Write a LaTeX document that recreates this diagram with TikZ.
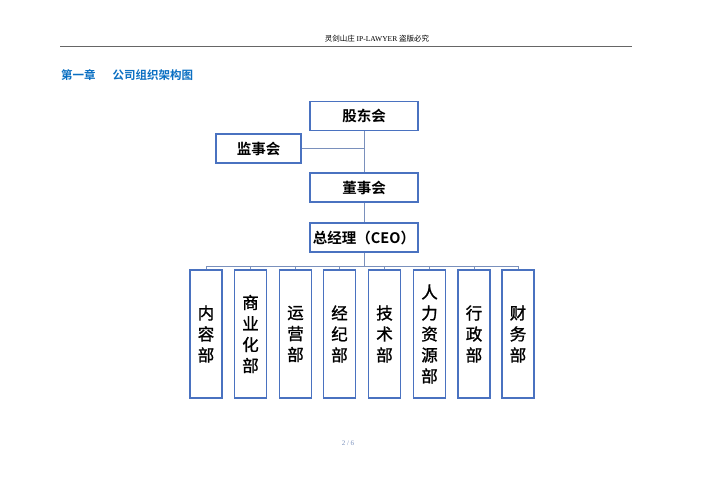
\documentclass[tikz,border=0pt]{standalone}
\usepackage{fontspec}
\setmainfont{Liberation Serif}
\newfontfamily\cjk{Noto Sans CJK SC}[BoldFont={Noto Sans CJK SC Bold}]
\newfontfamily\cjkmid{Noto Sans CJK SC}[FakeBold=1.2]
\newfontfamily\cjkhead{Noto Sans CJK SC}
\definecolor{boxblue}{HTML}{4A72C0}
\definecolor{linkblue}{HTML}{7A90BC}
\definecolor{titleblue}{HTML}{0A6FC2}
\tikzset{
  orgbox/.style={draw=boxblue, line width=1.2pt, minimum width=108pt, minimum height=29pt, inner sep=0pt, font=\cjk\bfseries\fontsize{14.5}{17}\selectfont},
  deptbox/.style={draw=boxblue, line width=1.2pt, minimum width=32pt, minimum height=128pt, inner sep=0pt, align=center, font=\cjkmid\fontsize{16.5}{21}\selectfont},
  link/.style={draw=linkblue, line width=0.8pt}
}
\begin{document}
\begin{tikzpicture}[x=1pt,y=-1pt]
\useasboundingbox (0,0) rectangle (707,500);
% page header
\node[font=\fontsize{7.5}{9}\selectfont, inner sep=0pt] (head) at (377,39) {{\cjkhead 灵剑山庄} IP-LAWYER {\cjkhead 盗版必究}};
\coordinate (ruleL) at (60,46);
\coordinate (ruleR) at (632,46);
\draw[gray!80!black, line width=0.9pt] (ruleL) -- (ruleR);
\node[anchor=west, text=titleblue, font=\cjk\bfseries\fontsize{11.5}{13}\selectfont, inner sep=0pt] (chap) at (61,75) {第一章\hspace{17pt}公司组织架构图};
% boards
\node[orgbox] (gdh) at (364,116) {股东会};
\node[orgbox, minimum width=85pt] (jsh) at (258.5,148.5) {监事会};
\node[orgbox] (dsh) at (364,187.5) {董事会};
\node[orgbox] (ceo) at (364,237.5) {总经理（CEO）};
\coordinate (jmeet) at (364,148.5);
\coordinate (bus) at (364,266);
\draw[link] (gdh) -- (dsh);
\draw[link] (jsh) -- (jmeet);
\draw[link] (dsh) -- (ceo);
\draw[link] (ceo) -- (bus);
% departments
\node[deptbox] (d1) at (206,334) {内\\容\\部};
\node[deptbox] (d2) at (250.5,334) {商\\业\\化\\部};
\node[deptbox] (d3) at (295.5,334) {运\\营\\部};
\node[deptbox] (d4) at (339.5,334) {经\\纪\\部};
\node[deptbox] (d5) at (384.5,334) {技\\术\\部};
\node[deptbox] (d6) at (429.5,334) {人\\力\\资\\源\\部};
\node[deptbox] (d7) at (474,334) {行\\政\\部};
\node[deptbox] (d8) at (518,334) {财\\务\\部};
\foreach \i in {1,...,8}
  \draw[link] (d\i.north) |- (bus);
% page number
\node[text=linkblue, font=\fontsize{7}{8}\selectfont, inner sep=0pt] (pageno) at (348,443) {2 / 6};
\end{tikzpicture}
\end{document}
